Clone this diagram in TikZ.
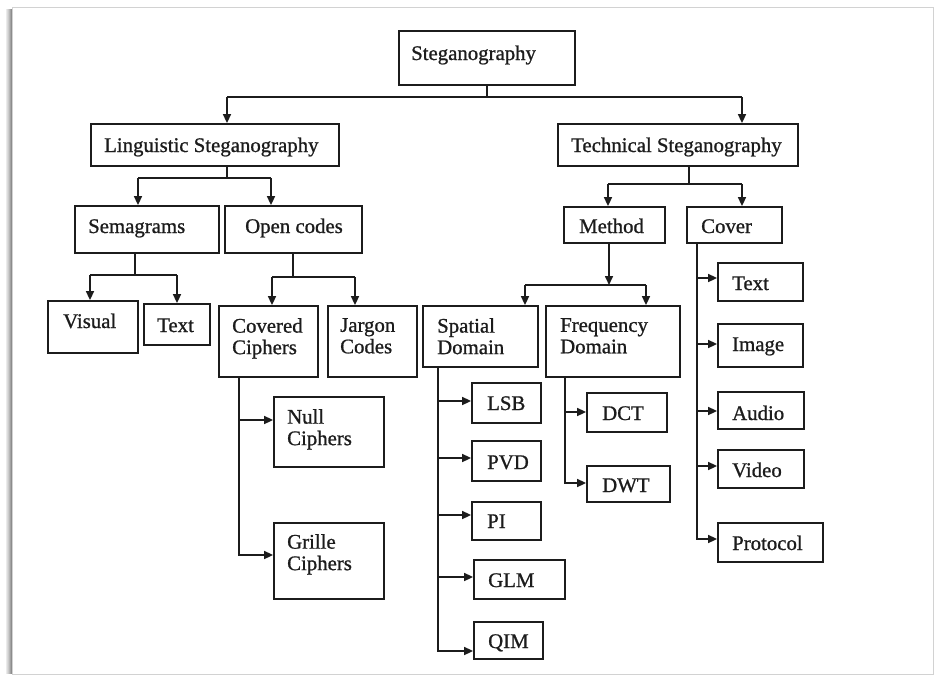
\documentclass[tikz,border=0pt]{standalone}
\usepackage{fontspec}
\setmainfont{Liberation Serif}[BoldFont=Liberation Serif, BoldFeatures={FakeBold=0.9}]
\usetikzlibrary{arrows.meta,fit}
\definecolor{ink}{HTML}{1C1C1C}
\definecolor{framegray}{HTML}{D2D2D2}
\begin{document}
\begin{tikzpicture}[x=1pt,y=-1pt,
  box/.style={draw=ink, line width=1.8pt, rectangle, inner sep=0pt},
  lbl/.style={font=\fontsize{20.8}{21.5}\selectfont\bfseries, text=ink, inner sep=0pt, anchor=base west},
  lbl2/.style={font=\fontsize{20.8}{21.5}\selectfont\bfseries, text=ink, inner sep=0pt, anchor=north west, align=left},
  conn/.style={draw=ink, line width=1.6pt},
  arr/.style={conn, -{Triangle[length=9pt,width=8pt]}},
]
\useasboundingbox (0,0) rectangle (935,675);
\fill[white] (0,0) rectangle (935,675);

% page frame with a soft shadow on its left side
\foreach \dx/\op in {6/0.08,5/0.14,4/0.2,3/0.28,2/0.36,1/0.45}
  \draw[black, opacity=\op, line width=1pt] (12-\dx,9) -- (12-\dx,674);
\draw[framegray, line width=1pt] (12,7) rectangle (933,674);

% ---------- boxes ----------
\node[box, fit={(399,31) (575,85)}] (steg) {};
\node[box, fit={(91,124) (339,166)}] (ling) {};
\node[box, fit={(558,124) (798,166)}] (tech) {};
\node[box, fit={(75,206) (219,253)}] (sema) {};
\node[box, fit={(225,206) (362,253)}] (open) {};
\node[box, fit={(564,207) (665,243)}] (meth) {};
\node[box, fit={(687,207) (782,243)}] (cover) {};
\node[box, fit={(48,301) (138,353)}] (visual) {};
\node[box, fit={(144,304) (210,345)}] (ltext) {};
\node[box, fit={(219,306) (318,377)}] (covered) {};
\node[box, fit={(328,306) (417,377)}] (jargon) {};
\node[box, fit={(423,306) (538,367)}] (spatial) {};
\node[box, fit={(546,306) (680,377)}] (freq) {};
\node[box, fit={(718,263) (803,301)}] (ctext) {};
\node[box, fit={(718,324) (803,367)}] (cimage) {};
\node[box, fit={(718,392) (804,429)}] (caudio) {};
\node[box, fit={(718,450) (804,488)}] (cvideo) {};
\node[box, fit={(718,523) (823,562)}] (cproto) {};
\node[box, fit={(274,397) (384,467)}] (nullc) {};
\node[box, fit={(274,523) (384,599)}] (grille) {};
\node[box, fit={(472,383) (541,423)}] (lsb) {};
\node[box, fit={(472,441) (541,481)}] (pvd) {};
\node[box, fit={(472,502) (541,540)}] (pix) {};
\node[box, fit={(474,560) (565,599)}] (glm) {};
\node[box, fit={(474,622) (543,659)}] (qim) {};
\node[box, fit={(587,393) (667,432)}] (dct) {};
\node[box, fit={(587,466) (670,502)}] (dwt) {};

% ---------- labels ----------
\node[lbl] (steg-t) at (411,60) {Steganography};
\node[lbl] (ling-t) at (104,152) {Linguistic Steganography};
\node[lbl] (tech-t) at (571,152) {Technical Steganography};
\node[lbl] (sema-t) at (88,233) {Semagrams};
\node[lbl] (open-t) at (245,233) {Open codes};
\node[lbl] (meth-t) at (579,233) {Method};
\node[lbl] (cover-t) at (701,233) {Cover};
\node[lbl] (visual-t) at (63,328) {Visual};
\node[lbl] (ltext-t) at (157,332) {Text};
\node[lbl2] (covered-t) at (232,318) {Covered\\Ciphers};
\node[lbl2] (jargon-t) at (340,318) {Jargon\\Codes};
\node[lbl2] (spatial-t) at (437,318) {Spatial\\Domain};
\node[lbl2] (freq-t) at (560,318) {Frequency\\Domain};
\node[lbl] (ctext-t) at (732,290) {Text};
\node[lbl] (cimage-t) at (732,351) {Image};
\node[lbl] (caudio-t) at (732,420) {Audio};
\node[lbl] (cvideo-t) at (732,477) {Video};
\node[lbl] (cproto-t) at (732,550) {Protocol};
\node[lbl2] (nullc-t) at (287,409) {Null\\Ciphers};
\node[lbl2] (grille-t) at (287,534) {Grille\\Ciphers};
\node[lbl] (lsb-t) at (487,410) {LSB};
\node[lbl] (pvd-t) at (487,469) {PVD};
\node[lbl] (pix-t) at (487,528) {PI};
\node[lbl] (glm-t) at (488,587) {GLM};
\node[lbl] (qim-t) at (488,648) {QIM};
\node[lbl] (dct-t) at (602,420) {DCT};
\node[lbl] (dwt-t) at (602,492) {DWT};

% ---------- connectors ----------
% Steganography -> two branches
\coordinate (b0) at (487,97);
\coordinate (bL) at (227,97);
\coordinate (bR) at (742,97);
\draw[conn] (steg.south) -- (b0);
\draw[conn] (bL) -- (bR);
\draw[arr] (bL) -- (ling.north -| bL);
\draw[arr] (bR) -- (tech.north -| bR);

% Linguistic -> Semagrams, Open codes
\coordinate (lc) at (227,178);
\coordinate (lL) at (138,178);
\coordinate (lR) at (271,178);
\draw[conn] (ling.south -| lc) -- (lc);
\draw[conn] (lL) -- (lR);
\draw[arr] (lL) -- (sema.north -| lL);
\draw[arr] (lR) -- (open.north -| lR);

% Technical -> Method, Cover
\coordinate (tc) at (689,184);
\coordinate (tL) at (608,184);
\coordinate (tR) at (742,184);
\draw[conn] (tech.south -| tc) -- (tc);
\draw[conn] (tL) -- (tR);
\draw[arr] (tL) -- (meth.north -| tL);
\draw[arr] (tR) -- (cover.north -| tR);

% Method -> Spatial, Frequency
\coordinate (mc) at (609,285);
\coordinate (mL) at (525,285);
\coordinate (mR) at (646,285);
\draw[arr] (meth.south -| mc) -- (mc);
\draw[conn] (mL) -- (mR);
\draw[arr] (mL) -- (spatial.north -| mL);
\draw[arr] (mR) -- (freq.north -| mR);

% Semagrams -> Visual, Text
\coordinate (sc) at (135,275);
\coordinate (sL) at (90,275);
\coordinate (sR) at (177,275);
\draw[conn] (sema.south -| sc) -- (sc);
\draw[conn] (sL) -- (sR);
\draw[arr] (sL) -- (visual.north -| sL);
\draw[arr] (sR) -- (ltext.north -| sR);

% Open codes -> Covered Ciphers, Jargon Codes
\coordinate (oc) at (293,277);
\coordinate (oL) at (272,277);
\coordinate (oR) at (355,277);
\draw[conn] (open.south -| oc) -- (oc);
\draw[conn] (oL) -- (oR);
\draw[arr] (oL) -- (covered.north -| oL);
\draw[arr] (oR) -- (jargon.north -| oR);

% Covered Ciphers -> Null, Grille
\coordinate (cA) at (239,420);
\coordinate (cB) at (239,555);
\draw[arr] (covered.south -| cB) -- (cB) -- (grille.west |- cB);
\draw[arr] (cA) -- (nullc.west |- cA);

% Spatial Domain -> LSB, PVD, PI, GLM, QIM
\coordinate (s1) at (438,401);
\coordinate (s2) at (438,458);
\coordinate (s3) at (438,515);
\coordinate (s4) at (438,577);
\coordinate (s5) at (438,651);
\draw[arr] (spatial.south -| s5) -- (s5) -- (qim.west |- s5);
\draw[arr] (s1) -- (lsb.west |- s1);
\draw[arr] (s2) -- (pvd.west |- s2);
\draw[arr] (s3) -- (pix.west |- s3);
\draw[arr] (s4) -- (glm.west |- s4);

% Frequency Domain -> DCT, DWT
\coordinate (f1) at (565,412);
\coordinate (f2) at (565,483);
\draw[arr] (freq.south -| f2) -- (f2) -- (dwt.west |- f2);
\draw[arr] (f1) -- (dct.west |- f1);

% Cover -> Text, Image, Audio, Video, Protocol
\coordinate (c1) at (697,278);
\coordinate (c2) at (697,344);
\coordinate (c3) at (697,411);
\coordinate (c4) at (697,466);
\coordinate (c5) at (697,539);
\draw[arr] (cover.south -| c5) -- (c5) -- (cproto.west |- c5);
\draw[arr] (c1) -- (ctext.west |- c1);
\draw[arr] (c2) -- (cimage.west |- c2);
\draw[arr] (c3) -- (caudio.west |- c3);
\draw[arr] (c4) -- (cvideo.west |- c4);
\end{tikzpicture}
\end{document}
